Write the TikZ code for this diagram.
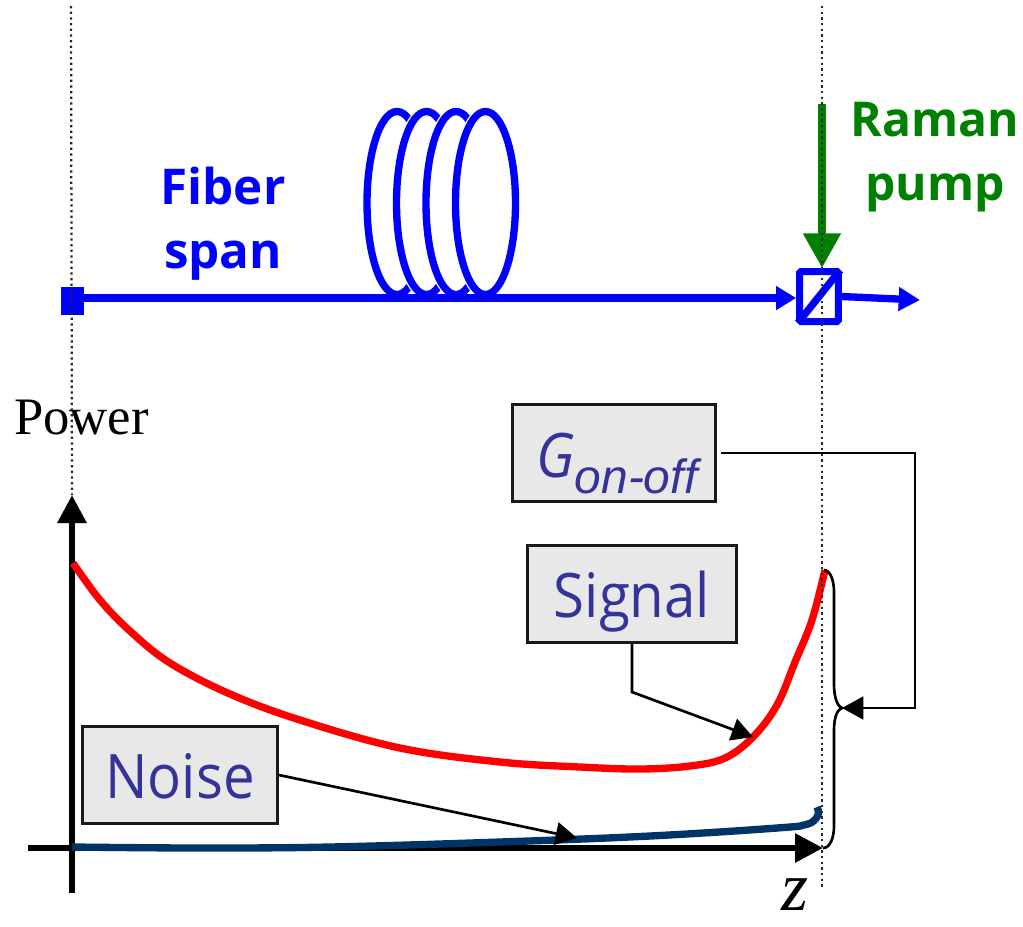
\documentclass[tikz,border=0pt]{standalone}
\usepackage{fontspec}
\setmainfont{Liberation Serif}
\setsansfont{Open Sans}
\newfontfamily\boxfont{Open Sans}[FakeStretch=0.92]
\newfontfamily\subfont{Liberation Sans}
\usetikzlibrary{arrows.meta,calc}
\definecolor{fiberblue}{RGB}{0,0,255}
\definecolor{pumpgreen}{RGB}{0,128,0}
\definecolor{boxtext}{RGB}{51,51,153}
\definecolor{boxfill}{RGB}{232,232,232}
\definecolor{noisenavy}{RGB}{0,51,102}
\tikzset{
    guide/.style={black!85,line width=1.7pt,dash pattern=on 1.7pt off 2.55pt},
    fiber/.style={fiberblue,line width=5.5pt},
    coil/.style={fiberblue,line width=5.5pt,fill=white},
    axis/.style={line width=4.5pt,-{Triangle[length=21pt,width=21pt]}},
    callout/.style={black,line width=2pt,-{Triangle[length=16pt,width=17pt]}},
    infobox/.style={draw=black!90,line width=2pt,fill=boxfill,text=boxtext,font=\boxfont\fontsize{46}{46}\selectfont,inner sep=0pt,text height=35.25pt,text depth=0pt},
    bluelabel/.style={text=fiberblue,font=\sffamily\bfseries\fontsize{37}{48}\selectfont,align=center},
    greenlabel/.style={text=pumpgreen,font=\sffamily\bfseries\fontsize{36}{48}\selectfont,align=center}
}
\begin{document}
\begin{tikzpicture}[x=0.75pt,y=-0.75pt]
    \useasboundingbox (0,0) rectangle (1023,926);
    % fiber coil
    \foreach \cx in {397,426.5,456,485.5}{
        \draw[white,line width=7.5pt] (\cx,203) ellipse (30 and 91.5);
        \draw[coil] (\cx,203) ellipse (30 and 91.5);
    }
    % fiber line and coupler
    \node[fill=fiberblue,minimum width=17.25pt,minimum height=21pt,inner sep=0pt] (launch) at (72.5,301) {};
    \node[draw=fiberblue,line width=5.25pt,rounded corners=1pt,minimum width=29pt,minimum height=37.5pt,inner sep=0pt] (coupler) at (819,296.5) {};
    \coordinate (fiberjoin) at ($(coupler.west)+(0,1.5)$);
    \coordinate (fiberend) at (920,300);
    \coordinate (pumpstart) at (822,104);
    \draw[fiber,shorten <=2pt,shorten >=2pt] (coupler.south west) -- (coupler.north east);
    \draw[fiber,-{Triangle[length=15pt,width=17pt]}] (launch.center |- fiberjoin) -- (fiberjoin);
    \draw[fiber,-{Triangle[length=16pt,width=17pt]}] (coupler.east) -- (fiberend);
    \draw[pumpgreen,line width=6pt,-{Triangle[length=26pt,width=27pt]}] (pumpstart) -- (pumpstart |- coupler.north);
    \node[bluelabel] (fiberlabel) at (223,224) {Fiber\\span};
    \node[greenlabel] (pumplabel) at (935,157) {Raman\\pump};
    % axes
    \coordinate (ytop) at (72,495);
    \coordinate (ybottom) at (72,893);
    \coordinate (xleft) at (28,848);
    \coordinate (xright) at (823,848);
    \draw[axis] (ybottom) -- (ytop);
    \draw[axis] (xleft) -- (xright);
    \node[font=\fontsize{39.5}{40}\selectfont,anchor=base west,inner sep=0pt] (powerlabel) at (14,434) {Power};
    \node[font=\itshape\fontsize{52}{52}\selectfont,anchor=base,inner sep=0pt] (zlabel) at (795,910) {z};
    % curves
    \draw[red,line width=5.5pt] plot[smooth,tension=0.6] coordinates {(73,563) (100,600) (130,631) (170,663) (230,694) (300,720) (400,748) (500,762) (580,767) (640,769) (690,766) (725,758) (753,737) (777,705) (795,662) (812,620) (825,570)};
    \draw[noisenavy,line width=5.5pt] plot[smooth,tension=0.6] coordinates {(72,847) (200,848) (330,847) (500,842) (650,836) (777,828) (808,824) (818,815) (817,807)};
    % boxes
    \node[infobox,minimum width=152.6pt,minimum height=73pt,text height=0pt] (gainbox) at (614,453) {};
    \node[text=boxtext,font=\boxfont\itshape\fontsize{46}{46}\selectfont,anchor=base west,inner sep=0pt] (gainlabel) at (536,477) {G\raisebox{-12pt}{\subfont\itshape\fontsize{36}{36}\selectfont on-off}};
    \node[infobox,minimum width=157pt,minimum height=73pt] (signalbox) at (632,594) {Signal};
    \node[infobox,minimum width=146.5pt,minimum height=73pt] (noisebox) at (180,775) {Noise};
    % callouts
    \coordinate (signaltip) at (753,737);
    \coordinate (noisetip) at (577,838);
    \coordinate (bracetip) at (842,708);
    \draw[callout,shorten <=3pt] (gainbox.east) -| (915,708) -- (bracetip);
    \draw[callout] (signalbox.south) -- ++(0,48) -- (signaltip);
    \draw[callout] (noisebox.east) -- (noisetip);
    % brace
    \draw[black,line width=2pt] (824,570) .. controls (830,570) and (834,580) .. (834,592) -- (834,685) .. controls (834,698) and (838,707) .. (842,708) .. controls (838,709) and (834,716) .. (834,730) -- (834,826) .. controls (834,838) and (830,848) .. (823,848);
    % guide lines
    \draw[guide] (71,6) -- (ytop);
    \draw[guide] (822,6) -- (822,888);
\end{tikzpicture}
\end{document}
